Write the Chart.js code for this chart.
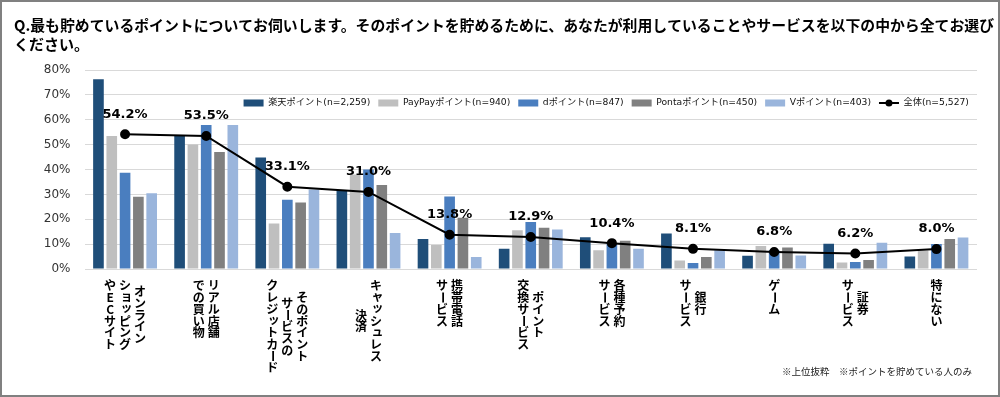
<!DOCTYPE html>
<html>
<head>
<meta charset="utf-8">
<script src="https://cdn.jsdelivr.net/npm/chart.js@4/dist/chart.umd.min.js"></script>
<style>
  html, body { margin: 0; padding: 0; background: #fff; }
  #wrap { position: relative; width: 1000px; height: 397px; }
  #frame { position: absolute; left: 0; top: 0; width: 1000px; height: 397px; box-sizing: border-box; border: 2px solid #808080; pointer-events: none; }
  canvas { display: block; }
</style>
</head>
<body>
<div id="wrap">
  <canvas id="c" width="1000" height="397"></canvas>
  <div id="frame"></div>
</div>
<script>
// ---- data ----
const categories = [
  ['オンライン', 'ショッピング', 'やECサイト'],
  ['リアル店舗', 'での買い物'],
  ['そのポイント', 'サービスの', 'クレジットカード'],
  ['キャッシュレス', '決済'],
  ['携帯電話', 'サービス'],
  ['ポイント', '交換サービス'],
  ['各種予約', 'サービス'],
  ['銀行', 'サービス'],
  ['ゲーム'],
  ['証券', 'サービス'],
  ['特にない']
];
const seriesNames = ['楽天ポイント(n=2,259)', 'PayPayポイント(n=940)', 'dポイント(n=847)', 'Pontaポイント(n=450)', 'Vポイント(n=403)', '全体(n=5,527)'];
const rakuten = [76.3, 53.8, 44.8, 31.6, 12.1, 8.1, 12.8, 14.3, 5.3, 10.2, 5.0];
const paypay  = [53.5, 50.1, 18.3, 38.0, 9.6, 15.6, 7.5, 3.4, 9.2, 2.6, 7.4];
const dpoint  = [38.7, 57.9, 27.8, 40.0, 29.1, 18.9, 10.5, 2.4, 7.5, 2.8, 10.1];
const ponta   = [29.0, 47.0, 26.7, 33.8, 20.6, 16.6, 11.4, 4.8, 8.6, 3.6, 12.1];
const vpoint  = [30.5, 57.9, 32.0, 14.5, 4.8, 15.9, 8.1, 7.5, 5.4, 10.6, 12.7];
const total   = [54.2, 53.5, 33.1, 31.0, 13.8, 12.9, 10.4, 8.1, 6.8, 6.2, 8.0];
const yMin = 0, yMax = 80, yStep = 10;
const titleLines = ['Q.最も貯めているポイントについてお伺いします。そのポイントを貯めるために、あなたが利用していることやサービスを以下の中から全てお選び', 'ください。'];
const noteText = '※上位抜粋　※ポイントを貯めている人のみ';

// ---- styles ----
const barColors = ['#1f4e79', '#bfbfbf', '#4a7ebf', '#808080', '#9ab5dc'];
const LATIN_CJK = "'DejaVu Sans', 'Noto Sans CJK JP', sans-serif";
const CJK = "'Noto Sans CJK JP', 'DejaVu Sans', sans-serif";

const barSeries = [rakuten, paypay, dpoint, ponta, vpoint];
const datasets = barSeries.map((d, i) => ({
  type: 'bar',
  label: seriesNames[i],
  data: d,
  backgroundColor: barColors[i],
  borderWidth: 0,
  categoryPercentage: 0.82,
  barPercentage: 0.8,
  order: 1
}));
datasets.push({
  type: 'line',
  label: seriesNames[5],
  data: total,
  borderColor: '#000',
  backgroundColor: '#000',
  borderWidth: 2,
  pointRadius: 4,
  pointBackgroundColor: '#000',
  pointBorderColor: '#000',
  tension: 0,
  order: 0
});

const SMALL = 'ッャュョィァゥェォっゃゅょぁぃぅぇぉ';
const verticalLabels = {
  id: 'verticalLabels',
  afterDraw(chart) {
    const ctx = chart.ctx;
    const xs = chart.scales.x;
    const topY = chart.chartArea.bottom + 11;
    const colGap = 15, pitch = 11.7;
    ctx.save();
    ctx.fillStyle = '#000';
    ctx.font = "bold 12px " + CJK;
    ctx.textAlign = 'center';
    ctx.textBaseline = 'middle';
    categories.forEach((lines, i) => {
      const cx = xs.getPixelForValue(i);
      const n = lines.length;
      const maxLen = Math.max(...lines.map(l => [...l].length));
      lines.forEach((line, j) => {
        const chars = [...line];
        const x = cx + ((n - 1) / 2 - j) * colGap;
        const y0 = topY + (maxLen - chars.length) * pitch / 2;
        chars.forEach((ch, k) => {
          const y = y0 + k * pitch + pitch / 2;
          if (ch === 'ー') {
            ctx.save();
            ctx.translate(x, y);
            ctx.rotate(Math.PI / 2);
            ctx.fillText(ch, 0, 0);
            ctx.restore();
          } else if (SMALL.includes(ch)) {
            ctx.fillText(ch, x + 1.5, y - 1.5);
          } else {
            ctx.fillText(ch, x, y);
          }
        });
      });
    });
    // footnote
    ctx.font = "9.5px " + CJK;
    ctx.fillStyle = '#222';
    ctx.textAlign = 'right';
    ctx.fillText(noteText, 972, 371.5);
    ctx.restore();
  }
};

const pointLabels = {
  id: 'pointLabels',
  afterDatasetsDraw(chart) {
    const ctx = chart.ctx;
    const meta = chart.getDatasetMeta(5);
    ctx.save();
    ctx.fillStyle = '#000';
    ctx.font = "bold 13px 'DejaVu Sans', sans-serif";
    ctx.textAlign = 'center';
    ctx.textBaseline = 'middle';
    meta.data.forEach((pt, i) => {
      ctx.fillText(total[i].toFixed(1) + '%', pt.x, pt.y - 20);
    });
    ctx.restore();
  }
};

const legendMover = {
  id: 'legendMover',
  afterLayout(chart) {
    const lg = chart.legend;
    if (!lg) return;
    lg.top = 90.4;
    lg.bottom = lg.top + 26;
    lg.left = chart.chartArea.left;
    lg.right = chart.chartArea.right;
    if (lg.lineWidths && lg.lineWidths.length) lg.lineWidths[0] += 0.05;
  },
  afterDraw(chart) {
    const lg = chart.legend;
    if (!lg || !lg.legendHitBoxes) return;
    const idx = lg.legendItems.findIndex(it => it.datasetIndex === 5);
    const hb = lg.legendHitBoxes[idx];
    if (!hb) return;
    const ctx = chart.ctx;
    ctx.save();
    ctx.fillStyle = '#000';
    ctx.beginPath();
    ctx.arc(hb.left + 10, hb.top + 9.2 / 2, 3.5, 0, Math.PI * 2);
    ctx.fill();
    ctx.restore();
  }
};

new Chart(document.getElementById('c'), {
  data: {
    labels: categories.map(c => c.join('')),
    datasets: datasets
  },
  options: {
    responsive: false,
    animation: false,
    devicePixelRatio: 1,
    layout: { padding: { left: 14, right: 6, top: 0, bottom: 0 } },
    scales: {
      x: {
        ticks: { display: false },
        grid: { display: false },
        border: { display: false },
        afterFit(scale) { scale.height = 128; }
      },
      y: {
        min: yMin,
        max: yMax,
        ticks: {
          stepSize: yStep,
          padding: 14,
          color: '#333',
          font: { family: "'DejaVu Sans', sans-serif", size: 12 },
          callback: v => v + '%'
        },
        grid: { color: '#d9d9d9', lineWidth: 1, drawTicks: false },
        border: { display: false },
        afterFit(scale) { scale.width = 70.5; }
      },
      yPad: {
        position: 'right',
        display: true,
        min: yMin,
        max: yMax,
        ticks: { display: false },
        grid: { display: false, drawOnChartArea: false },
        border: { display: false },
        afterFit(scale) { scale.width = 17; }
      }
    },
    plugins: {
      title: {
        display: true,
        text: titleLines,
        align: 'start',
        color: '#000',
        font: { family: CJK, size: 15, weight: 'bold', lineHeight: '19.5px' },
        padding: { top: 15.25, bottom: 14.75 }
      },
      legend: {
        display: true,
        position: 'top',
        align: 'end',
        maxHeight: 1,
        labels: {
          usePointStyle: true,
          pointStyleWidth: 20,
          boxHeight: 7,
          padding: 8,
          color: '#111',
          font: { family: LATIN_CJK, size: 9.2 },
          sort: (a, b) => a.datasetIndex - b.datasetIndex,
          generateLabels(chart) {
            const items = Chart.defaults.plugins.legend.labels.generateLabels(chart);
            items.forEach(it => {
              const ds = chart.data.datasets[it.datasetIndex];
              if (ds.type === 'line') {
                it.pointStyle = 'line';
                it.strokeStyle = '#000';
                it.fillStyle = '#000';
                it.lineWidth = 2;
              } else {
                it.pointStyle = 'rect';
                it.fillStyle = ds.backgroundColor;
                it.strokeStyle = ds.backgroundColor;
                it.lineWidth = 0;
              }
            });
            return items;
          }
        }
      },
      tooltip: { enabled: false }
    }
  },
  plugins: [verticalLabels, pointLabels, legendMover]
});
</script>
</body>
</html>
